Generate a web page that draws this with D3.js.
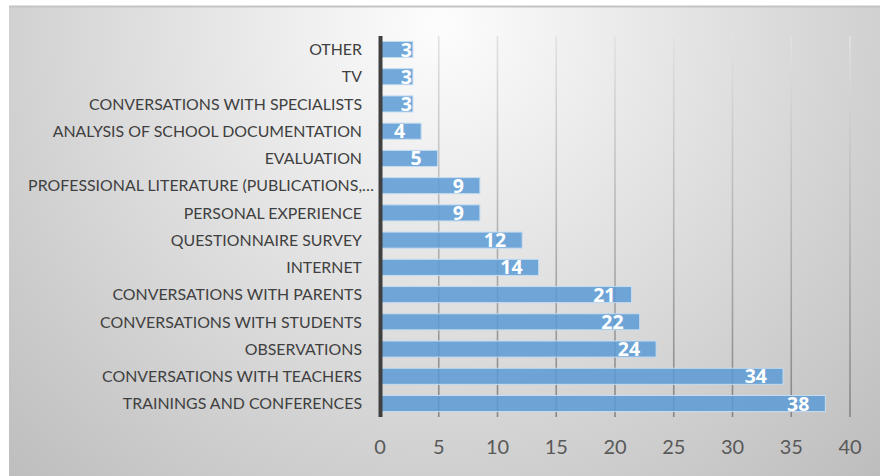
<!DOCTYPE html>
<meta charset="utf-8">
<style>
  body { margin: 0; background: #fff; }
  text { font-family: Lato, "Open Sans", sans-serif; }
  .cats text { fill: #404040; font-size: 15.9px; }
  .ticks text { fill: #595959; font-size: 20px; }
  .vals text { fill: #fff; font-size: 19.5px; font-weight: 700; font-family: "Open Sans", sans-serif; }
</style>
<script src="https://d3js.org/d3.v7.min.js"></script>
<body>
<script>

const width = 880;
const height = 476;

// top to bottom, as drawn
const categories = [
  "OTHER",
  "TV",
  "CONVERSATIONS WITH SPECIALISTS",
  "ANALYSIS OF SCHOOL DOCUMENTATION",
  "EVALUATION",
  "PROFESSIONAL LITERATURE (PUBLICATIONS,\u2026",
  "PERSONAL EXPERIENCE",
  "QUESTIONNAIRE SURVEY",
  "INTERNET",
  "CONVERSATIONS WITH PARENTS",
  "CONVERSATIONS WITH STUDENTS",
  "OBSERVATIONS",
  "CONVERSATIONS WITH TEACHERS",
  "TRAININGS AND CONFERENCES"
];
const values = [2.8, 2.8, 2.8, 3.5, 4.9, 8.5, 8.5, 12.1, 13.5, 21.4, 22.1, 23.5, 34.3, 37.9];
const ticks = [0, 5, 10, 15, 20, 25, 30, 35, 40];

const x0 = 380, x1 = 850, yTop = 36, yBot = 417;

const svg = d3.select("body").append("svg")
  .attr("width", width)
  .attr("height", height)
  .style("display", "block");

const defs = svg.append("defs");
const bg = defs.append("radialGradient")
  .attr("id", "bg")
  .attr("gradientUnits", "userSpaceOnUse")
  .attr("cx", 440).attr("cy", 25).attr("r", 640);
bg.append("stop").attr("offset", 0).attr("stop-color", "#fdfdfd");
bg.append("stop").attr("offset", 1).attr("stop-color", "#bcbcbc");

const gg = defs.append("linearGradient")
  .attr("id", "grid")
  .attr("gradientUnits", "userSpaceOnUse")
  .attr("x1", 0).attr("y1", yTop).attr("x2", 0).attr("y2", yBot);
gg.append("stop").attr("offset", 0).attr("stop-color", "#e2e2e2");
gg.append("stop").attr("offset", 1).attr("stop-color", "#858585");

svg.append("rect")
  .attr("x", 9).attr("y", 7)
  .attr("width", width - 9).attr("height", height - 7)
  .attr("fill", "url(#bg)");
svg.append("line")
  .attr("x1", 9).attr("x2", width)
  .attr("y1", 6.5).attr("y2", 6.5)
  .attr("stroke", "#c4c4c4")
  .attr("stroke-width", 2);

const x = d3.scaleLinear().domain([0, 40]).range([x0, x1]);
const y = d3.scaleBand().domain(categories).range([yTop, yBot])
  .paddingInner(0.41).paddingOuter(0.2);

// gridlines
svg.append("g")
  .selectAll("line")
  .data(ticks.slice(1))
  .enter().append("line")
  .attr("x1", d => x(d)).attr("x2", d => x(d))
  .attr("y1", yTop).attr("y2", yBot)
  .attr("stroke", "url(#grid)")
  .attr("stroke-width", 1.6);

// bars
svg.append("g")
  .selectAll("rect")
  .data(values)
  .enter().append("rect")
  .attr("x", x(0))
  .attr("y", (d, i) => y(categories[i]))
  .attr("width", d => x(d) - x(0))
  .attr("height", y.bandwidth())
  .attr("fill", "#5b9bd5")
  .attr("fill-opacity", 0.85)
  .attr("stroke", "#c5dcf0")
  .attr("stroke-width", 1);

// axis line
svg.append("line")
  .attr("x1", x0 + 0.5).attr("x2", x0 + 0.5)
  .attr("y1", yTop).attr("y2", yBot)
  .attr("stroke", "#404040")
  .attr("stroke-width", 4);

// category labels
const cats = svg.append("g").attr("class", "cats")
  .selectAll("text")
  .data(categories)
  .enter().append("text")
  .attr("x", 362)
  .attr("y", d => y(d) + y.bandwidth() / 2)
  .attr("dy", "0.36em")
  .attr("text-anchor", "end")
  .text(d => d);
cats.each(function(d) {
  if (d.endsWith("\u2026")) {
    const t = d3.select(this);
    const full = this.getComputedTextLength();
    t.text(d.slice(0, -1));
    const part = this.getComputedTextLength();
    t.text(d).attr("x", 362 + (full - part));
  }
});

// value labels
svg.append("g").attr("class", "vals")
  .selectAll("text")
  .data(values)
  .enter().append("text")
  .attr("y", (d, i) => y(categories[i]) + y.bandwidth() / 2)
  .attr("dy", "0.36em")
  .attr("text-anchor", "end")
  .text(d => Math.round(d))
  .attr("x", function(d) {
    const w = this.getComputedTextLength();
    const end = x(d);
    return (end - 16 - w < x0 + 10) ? end - 1 : end - 16;
  });

// tick labels
svg.append("g").attr("class", "ticks")
  .selectAll("text")
  .data(ticks)
  .enter().append("text")
  .attr("x", d => x(d))
  .attr("y", 447)
  .attr("dy", "0.36em")
  .attr("text-anchor", "middle")
  .text(d => d);
</script>
</body>
